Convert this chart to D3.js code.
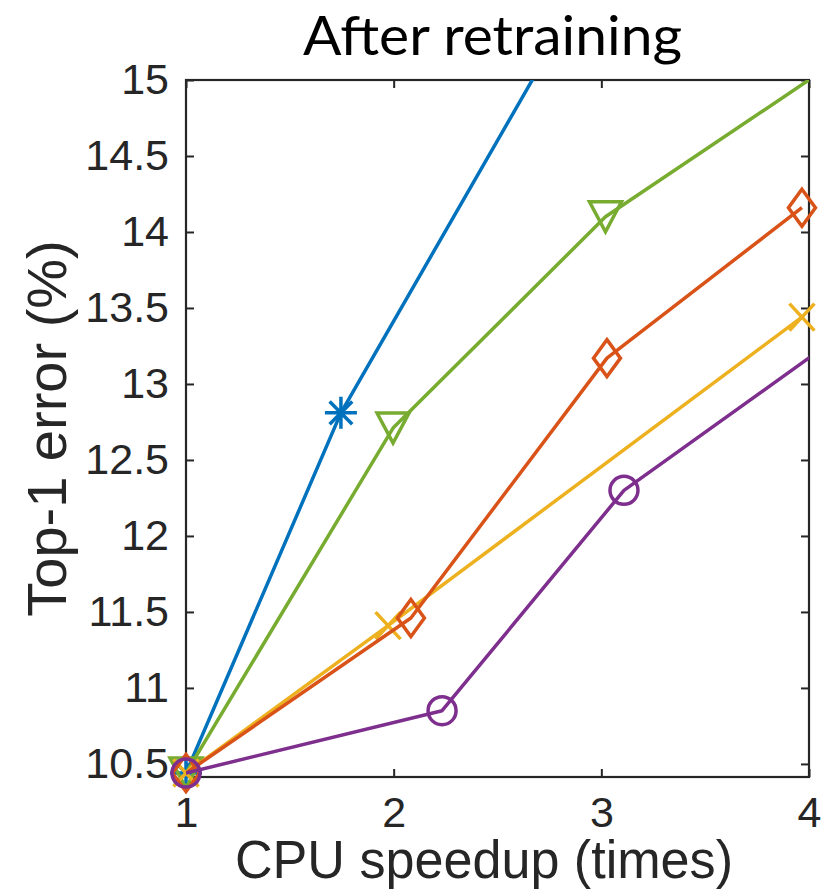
<!DOCTYPE html>
<html>
<head>
<meta charset="utf-8">
<script src="https://cdn.jsdelivr.net/npm/d3@7"></script>
<style>
  html, body { margin: 0; padding: 0; background: #fff; }
  svg { display: block; }
</style>
</head>
<body>
<svg id="chart" width="823" height="893"></svg>
<script>
// ---- data ----
const xTicks = [1, 2, 3, 4];
const yTicks = [10.5, 11, 11.5, 12, 12.5, 13, 13.5, 14, 14.5, 15];
const yTickLabels = ["10.5", "11", "11.5", "12", "12.5", "13", "13.5", "14", "14.5", "15"];

const blueX = [1, 1.746, 3.0];
const blueY = [10.44, 12.81, 15.79];
const blueMarked = [true, true, false];

const greenX = [1, 1.997, 3.02, 4.5];
const greenY = [10.44, 12.71, 14.10, 15.46];
const greenMarked = [true, true, true, false];

const yellowX = [1, 1.973, 3.966];
const yellowY = [10.44, 11.41, 13.44];
const yellowMarked = [true, true, true];

const orangeX = [1, 2.083, 3.027, 3.966];
const orangeY = [10.44, 11.46, 13.17, 14.16];
const orangeMarked = [true, true, true, true];

const purpleX = [1, 2.233, 3.109, 4.5];
const purpleY = [10.44, 10.85, 12.30, 13.66];
const purpleMarked = [true, true, true, false];

const titleText = "After retraining";
const xLabel = "CPU speedup (times)";
const yLabel = "Top-1 error (%)";

// ---- layout ----
const L = 186, R = 809, T = 80, B = 777;
const svg = d3.select("#chart");
const x = d3.scaleLinear().domain([1, 4]).range([L, R]);
const y = d3.scaleLinear().domain([10.414, 15]).range([B, T]);

const axisColor = "#262626";
const tickFont = "'Liberation Sans', Arial, Helvetica, sans-serif";

svg.append("defs").append("clipPath").attr("id", "plotclip")
  .append("rect").attr("x", L).attr("y", T).attr("width", R - L).attr("height", B - T);

// axes (box with inward ticks on all sides)
const tickLen = 8;
const gAxes = svg.append("g");
gAxes.append("g").attr("transform", `translate(0,${B})`)
  .call(d3.axisBottom(x).tickValues(xTicks).tickSizeInner(-tickLen).tickSizeOuter(0).tickFormat(d3.format("d")).tickPadding(19));
gAxes.append("g").attr("transform", `translate(0,${T})`)
  .call(d3.axisTop(x).tickValues(xTicks).tickSizeInner(-tickLen).tickSizeOuter(0).tickFormat(""));
gAxes.append("g").attr("transform", `translate(${L},0)`)
  .call(d3.axisLeft(y).tickValues(yTicks).tickSizeInner(-tickLen).tickSizeOuter(0)
    .tickFormat((d, i) => yTickLabels[i]).tickPadding(17));
gAxes.append("g").attr("transform", `translate(${R},0)`)
  .call(d3.axisRight(y).tickValues(yTicks).tickSizeInner(-tickLen).tickSizeOuter(0).tickFormat(""));

gAxes.selectAll(".domain").remove();
gAxes.selectAll(".tick line").attr("stroke", axisColor).attr("stroke-width", 2);
gAxes.selectAll(".tick text").attr("fill", axisColor)
  .style("font-family", tickFont).style("font-size", "43px");

// box
svg.append("rect").attr("x", L).attr("y", T).attr("width", R - L).attr("height", B - T)
  .attr("fill", "none").attr("stroke", axisColor).attr("stroke-width", 2.2);

// ---- series ----
const series = [
  { xs: blueX, ys: blueY, m: blueMarked, color: "#0072BD", marker: "star" },
  { xs: greenX, ys: greenY, m: greenMarked, color: "#77AC30", marker: "tri" },
  { xs: yellowX, ys: yellowY, m: yellowMarked, color: "#EDB120", marker: "x" },
  { xs: orangeX, ys: orangeY, m: orangeMarked, color: "#D95319", marker: "diamond" },
  { xs: purpleX, ys: purpleY, m: purpleMarked, color: "#7E2F8E", marker: "circle" }
];

const line = d3.line().x(d => x(d[0])).y(d => y(d[1]));

function markerPath(type) {
  switch (type) {
    case "star": {
      const r = 16, p = [];
      for (let k = 0; k < 4; k++) {
        const a = k * Math.PI / 4;
        const dx = r * Math.cos(a), dy = r * Math.sin(a);
        p.push(`M${-dx},${-dy}L${dx},${dy}`);
      }
      return p.join("");
    }
    case "tri": return "M-16,-15L16,-15L0,15Z";
    case "x": return "M-12.5,-13.5L12.5,13.5M-12.5,13.5L12.5,-13.5";
    case "diamond": return "M0,-18.5L13.5,0L0,18.5L-13.5,0Z";
    case "circle": return "M14,0A14,14 0 1,1 -14,0A14,14 0 1,1 14,0Z";
  }
}

series.forEach(s => {
  const pts = s.xs.map((v, i) => [v, s.ys[i]]);
  const g = svg.append("g");
  g.append("path").datum(pts).attr("d", line)
    .attr("fill", "none").attr("stroke", s.color).attr("stroke-width", 3.5)
    .attr("stroke-linejoin", "round").attr("clip-path", "url(#plotclip)");
  g.selectAll("path.mk").data(pts.filter((d, i) => s.m[i])).enter()
    .append("path").attr("class", "mk")
    .attr("transform", d => `translate(${x(d[0])},${y(d[1])})`)
    .attr("d", markerPath(s.marker))
    .attr("fill", "none").attr("stroke", s.color).attr("stroke-width", 3.5);
});

// ---- text ----
svg.append("text").attr("x", 303).attr("y", 55)
  .attr("textLength", 379).attr("lengthAdjust", "spacingAndGlyphs")
  .style("font-family", "Lato, 'Open Sans', sans-serif").style("font-size", "55px")
  .attr("fill", "#000").text(titleText);

svg.append("text").attr("x", 235).attr("y", 878)
  .attr("textLength", 498).attr("lengthAdjust", "spacingAndGlyphs")
  .style("font-family", tickFont).style("font-size", "54px")
  .attr("fill", axisColor).text(xLabel);

svg.append("text").attr("transform", `translate(66,${(T + B) / 2}) rotate(-90)`)
  .attr("text-anchor", "middle")
  .style("font-family", tickFont).style("font-size", "56px")
  .attr("fill", axisColor).text(yLabel);
</script>
</body>
</html>
